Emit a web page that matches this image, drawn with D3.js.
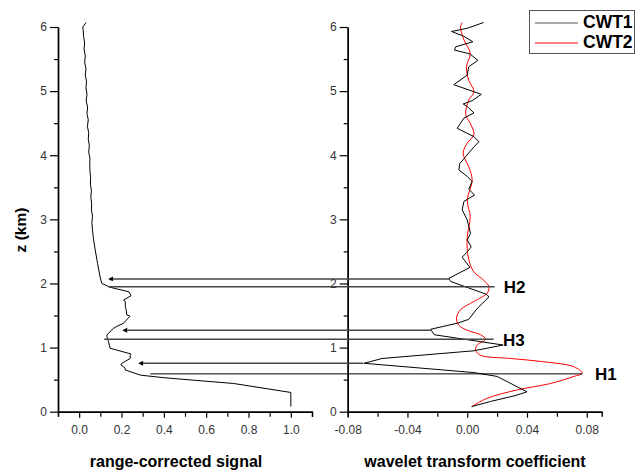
<!DOCTYPE html>
<html>
<head>
<meta charset="utf-8">
<script src="https://cdn.jsdelivr.net/npm/d3@7"></script>
<style>
  body { margin: 0; background: #fff; }
  svg { font-family: "Liberation Sans", Arial, sans-serif; }
</style>
</head>
<body>
<svg id="chart" width="637" height="471"></svg>
<script>
// range-corrected signal profile (left panel)
var sigZ = [0.08, 0.30, 0.44, 0.53, 0.57, 0.65, 0.68, 0.73, 0.755, 0.83, 0.88, 0.90, 0.99, 1.09, 1.17, 1.20, 1.30, 1.33, 1.38, 1.49, 1.51, 1.59, 1.64, 1.72, 1.74, 1.81, 1.87, 1.94, 2.00, 2.10, 2.31, 2.52, 2.68, 2.83,
            2.95, 3.05, 3.15, 3.25, 3.35, 3.45, 3.55, 3.65, 3.75, 3.85, 3.95, 4.05, 4.15, 4.25, 4.35, 4.45, 4.55, 4.65, 4.75, 4.85, 4.95, 5.05, 5.15, 5.25, 5.35, 5.45, 5.55, 5.65, 5.75, 5.85, 5.95, 6.00, 6.07]
var sigX = [1.0, 1.0, 0.73, 0.40, 0.29, 0.218, 0.217, 0.197, 0.202, 0.241, 0.241, 0.245, 0.146, 0.139, 0.131, 0.131, 0.162, 0.178, 0.21, 0.24, 0.225, 0.222, 0.218, 0.218, 0.21, 0.245, 0.235, 0.147, 0.107, 0.099, 0.087, 0.076, 0.068, 0.063,
            0.060, 0.063, 0.058, 0.059, 0.055, 0.058, 0.053, 0.054, 0.051, 0.050, 0.051, 0.045, 0.048, 0.043, 0.045, 0.039, 0.043, 0.037, 0.040, 0.033, 0.037, 0.032, 0.035, 0.029, 0.032, 0.026, 0.029, 0.023, 0.026, 0.021, 0.019, 0.017, 0.033]

// wavelet coefficients (right panel)
var cwt1Z = [0.08, 0.16, 0.25, 0.31, 0.55, 0.61, 0.755, 0.83, 0.95, 1.04, 1.20, 1.285, 1.38, 1.44, 1.61, 1.79, 1.83, 2.03, 2.08, 2.25, 2.41, 2.48, 2.57, 2.68, 2.78, 2.99, 3.15, 3.28, 3.38, 3.47, 3.59, 3.67, 3.77, 3.87, 3.98, 4.13, 4.21, 4.29, 4.42, 4.58, 4.66, 4.76, 4.80, 4.85, 4.95, 5.10, 5.25, 5.38, 5.48, 5.58, 5.64, 5.69, 5.77, 5.86, 5.93, 5.98, 6.07]
var cwt1 = [0.003, 0.0156, 0.032, 0.040, 0.020, 0.0045, -0.069, -0.057, 0.0045, 0.024, -0.022, -0.0246, -0.0067, 0.001, 0.0067, 0.0145, 0.013, -0.011, -0.0123, 0.0018, -0.0034, -0.0005, 0.0027, 0.0, 0.0022, 0.0, -0.0034, -0.0022, 0.0049, 0.001, 0.0033, 0.0, -0.0056, -0.005, -0.001, 0.0045, 0.0078, 0.0045, -0.0067, -0.0022, 0.0045, 0.0, -0.0027, 0.0033, 0.0094, -0.009, 0.0, 0.001, 0.0071, 0.0018, -0.0085, -0.0078, 0.0038, -0.0027, -0.0105, 0.0, 0.011]
var cwt2Z = [0.08, 0.21, 0.34, 0.44, 0.55, 0.60, 0.70, 0.78, 0.83, 0.88, 0.96, 1.04, 1.13, 1.20, 1.27, 1.35, 1.46, 1.59, 1.72, 1.85, 1.95, 2.05, 2.18, 2.31, 2.52, 2.73, 3.04, 3.30, 3.61, 3.82, 4.03, 4.19, 4.32, 4.50, 4.63, 4.86, 4.99, 5.17, 5.38, 5.59, 5.80, 6.00, 6.07]
var cwt2 = [0.003, 0.0134, 0.0335, 0.0558, 0.0714, 0.077, 0.0714, 0.051, 0.029, 0.009, 0.0056, 0.0067, 0.0123, 0.009, 0.0, -0.0056, -0.0072, -0.0045, 0.0045, 0.0134, 0.0145, 0.011, 0.0045, 0.0018, 0.0, 0.0, 0.002, 0.0, 0.0033, 0.001, -0.0027, 0.0, 0.0045, 0.002, -0.001, 0.001, 0.0045, 0.001, -0.0005, 0.002, -0.0022, -0.0045, -0.0034]

// arrows (from CWT1 minimum to signal) and marker lines (signal -> CWT2 peak)
var arrowZ = [2.07, 1.27, 0.755]
var arrowFrom = [-0.0119, -0.0246, -0.0695]
var arrowTo = [0.113, 0.18, 0.255]
var markZ = [1.95, 1.13, 0.59]
var markFrom = [0.137, 0.118, 0.336]
var markTo = [0.0183, 0.0176, 0.077]
var markLabels = ["H2", "H3", "H1"]
var labelV = [0.0245, 0.024, 0.0855]

var zTicks = [0, 1, 2, 3, 4, 5, 6]
var zMinor = [0.5, 1.5, 2.5, 3.5, 4.5, 5.5]
var sigTicks = [0.0, 0.2, 0.4, 0.6, 0.8, 1.0]
var sigMinor = [-0.1, 0.1, 0.3, 0.5, 0.7, 0.9, 1.1]
var cwtTicks = [-0.08, -0.04, 0.00, 0.04, 0.08]
var cwtMinor = [-0.06, -0.02, 0.02, 0.06]

var svg = d3.select("#chart")

var y = d3.scaleLinear().domain([0, 6]).range([411.7, 27])
var xL = d3.scaleLinear().domain([-0.1, 1.1]).range([58, 312])
var xR = d3.scaleLinear().domain([-0.08, 0.09]).range([347.7, 601.7])

function styleAxis(g) {
  g.selectAll("path").attr("stroke", "#000").attr("stroke-width", 1.4)
  g.selectAll("line").attr("stroke", "#000").attr("stroke-width", 1.2)
  g.selectAll("text").attr("fill", "#333").style("font-size", "12px")
}

function drawPanel(x, ticks, minor, digits) {
  var fmt = function(d) { return d.toFixed(digits) }
  svg.append("g").attr("transform", "translate(0," + y(0) + ")")
    .call(d3.axisBottom(x).tickValues(minor).tickSize(5).tickFormat(""))
    .call(styleAxis)
  svg.append("g").attr("transform", "translate(0," + y(0) + ")")
    .call(d3.axisBottom(x).tickValues(ticks).tickSize(6).tickPadding(8).tickSizeOuter(0).tickFormat(fmt))
    .call(styleAxis)
  var x0 = x.range()[0]
  svg.append("g").attr("transform", "translate(" + x0 + ",0)")
    .call(d3.axisLeft(y).tickValues(zMinor).tickSize(4).tickSizeOuter(0).tickFormat(""))
    .call(styleAxis)
  svg.append("g").attr("transform", "translate(" + x0 + ",0)")
    .call(d3.axisLeft(y).tickValues(zTicks).tickSize(8).tickPadding(3).tickSizeOuter(0).tickFormat(d3.format("d")))
    .call(styleAxis)
}

drawPanel(xL, sigTicks, sigMinor, 1)
drawPanel(xR, cwtTicks, cwtMinor, 2)

// curves
var sigLine = d3.line().x(function(d) { return xL(d[1]) }).y(function(d) { return y(d[0]) })
svg.append("path").datum(d3.zip(sigZ, sigX)).attr("d", sigLine)
  .attr("fill", "none").attr("stroke", "#000").attr("stroke-width", 1)

var cwtLine = d3.line().x(function(d) { return xR(d[1]) }).y(function(d) { return y(d[0]) })
svg.append("path").datum(d3.zip(cwt2Z, cwt2)).attr("d", cwtLine.curve(d3.curveCatmullRom))
  .attr("fill", "none").attr("stroke", "#ff0000").attr("stroke-width", 1)
svg.append("path").datum(d3.zip(cwt1Z, cwt1)).attr("d", d3.line().x(function(d) { return xR(d[1]) }).y(function(d) { return y(d[0]) }))
  .attr("fill", "none").attr("stroke", "#000").attr("stroke-width", 1)

// arrows
svg.append("defs").append("marker").attr("id", "head")
  .attr("viewBox", "0 0 10 10").attr("refX", 0).attr("refY", 5)
  .attr("markerWidth", 10).attr("markerHeight", 5).attr("markerUnits", "userSpaceOnUse")
  .attr("orient", "auto")
  .append("path").attr("d", "M0,0L10,5L0,10Z").attr("fill", "#000")

arrowZ.forEach(function(z, i) {
  svg.append("line")
    .attr("x1", xR(arrowFrom[i])).attr("y1", y(z))
    .attr("x2", xL(arrowTo[i]) + 10).attr("y2", y(z))
    .attr("stroke", "#444").attr("stroke-width", 1.5)
    .attr("marker-end", "url(#head)")
})

markZ.forEach(function(z, i) {
  svg.append("line")
    .attr("x1", xL(markFrom[i])).attr("y1", y(z))
    .attr("x2", xR(markTo[i])).attr("y2", y(z))
    .attr("stroke", i == 2 ? "#000" : "#444").attr("stroke-width", i == 2 ? 1 : 1.5)
  svg.append("text").attr("x", xR(labelV[i])).attr("y", y(z) + 2)
    .attr("dominant-baseline", "middle")
    .style("font-size", "17px").style("font-weight", "bold").text(markLabels[i])
})

// axis titles
svg.append("text").attr("x", 176).attr("y", 467).attr("text-anchor", "middle")
  .style("font-size", "16px").style("font-weight", "bold").text("range-corrected signal")
svg.append("text").attr("x", 475).attr("y", 467).attr("text-anchor", "middle")
  .style("font-size", "16px").style("font-weight", "bold").text("wavelet transform coefficient")
svg.append("text").attr("transform", "translate(26,230) rotate(-90)").attr("text-anchor", "middle")
  .style("font-size", "15.5px").style("font-weight", "bold").text("z (km)")

// legend
svg.append("rect").attr("x", 529.5).attr("y", 10.5).attr("width", 105).attr("height", 43)
  .attr("fill", "#fff").attr("stroke", "#555").attr("stroke-width", 1)
svg.append("line").attr("x1", 535).attr("x2", 578).attr("y1", 23).attr("y2", 23).attr("stroke", "#555").attr("stroke-width", 1.2)
svg.append("text").attr("x", 583).attr("y", 23.5).attr("dominant-baseline", "middle").style("font-size", "17.5px").style("font-weight", "bold").text("CWT1")
svg.append("line").attr("x1", 535).attr("x2", 578).attr("y1", 43).attr("y2", 43).attr("stroke", "#ff0000").attr("stroke-width", 1.2)
svg.append("text").attr("x", 583).attr("y", 43.5).attr("dominant-baseline", "middle").style("font-size", "17.5px").style("font-weight", "bold").text("CWT2")
</script>
</body>
</html>
